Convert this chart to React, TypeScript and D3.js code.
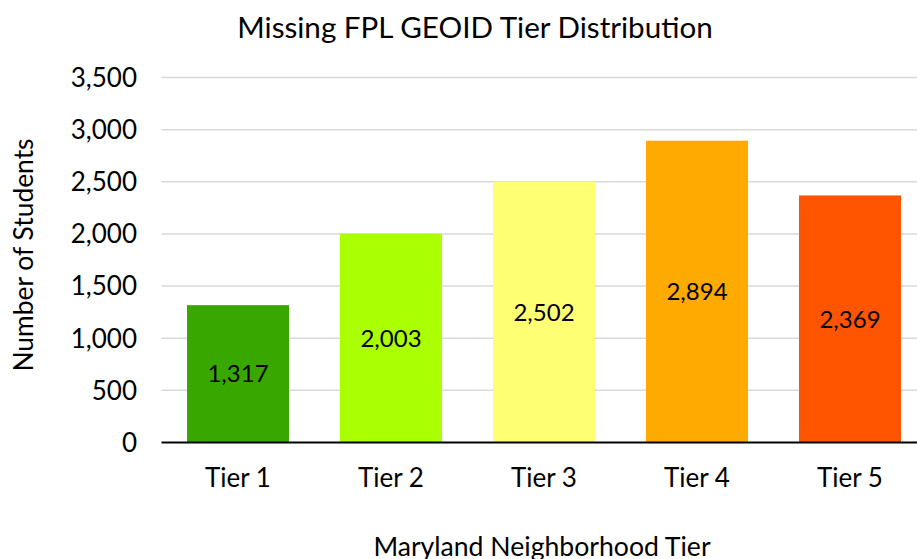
import React from 'react';
import * as d3 from 'd3';

// chart data
const tiers = ['Tier 1', 'Tier 2', 'Tier 3', 'Tier 4', 'Tier 5'];
const students = [1317, 2003, 2502, 2894, 2369];
const tierColors = ['#38a800', '#aaff00', '#ffff73', '#ffaa00', '#ff5500'];
const yTicks = [0, 500, 1000, 1500, 2000, 2500, 3000, 3500];

const width = 917;
const height = 559;
const font = 'Lato, "Open Sans", sans-serif';

const App = () => {
  // plot area
  const left = 161.5;
  const right = 926.5;
  const top = 77.5;
  const bottom = 442.5;

  const xScale = d3.scaleBand<string>()
    .domain(tiers)
    .range([left, right])
    .paddingInner(1 / 3)
    .paddingOuter(1 / 6);

  const yScale = d3.scaleLinear()
    .domain([0, 3500])
    .range([bottom, top]);

  const fmt = d3.format(',');

  return (
    <svg width={width} height={height} style={{ position: 'absolute', left: 0, top: 0, background: '#fff' }}>
      <rect x={0} y={0} width={width} height={height} fill="#fff" />
      <text x={475} y={38} textAnchor="middle" fontFamily={font} fontSize={29.6} fill="#000">
        Missing FPL GEOID Tier Distribution
      </text>

      {/* grid + y ticks */}
      {yTicks.map(t => (
        <g key={t}>
          {t > 0 && (
            <line x1={left} x2={width} y1={yScale(t)} y2={yScale(t)} stroke="#d9d9d9" strokeWidth={1.5} />
          )}
          <text x={137} y={yScale(t)} dy="0.36em" textAnchor="end" fontFamily={font} fontSize={26} fill="#000">
            {fmt(t)}
          </text>
        </g>
      ))}

      {/* bars */}
      {tiers.map((d, i) => (
        <g key={d}>
          <rect
            x={xScale(d)}
            y={yScale(students[i])}
            width={xScale.bandwidth()}
            height={yScale(0) - yScale(students[i])}
            fill={tierColors[i]}
          />
          <text
            x={(xScale(d) as number) + xScale.bandwidth() / 2}
            y={(yScale(students[i]) + yScale(0)) / 2}
            dy="0.36em"
            textAnchor="middle"
            fontFamily={font}
            fontSize={24}
            fill="#000"
          >
            {fmt(students[i])}
          </text>
          <text
            x={(xScale(d) as number) + xScale.bandwidth() / 2}
            y={487}
            textAnchor="middle"
            fontFamily={font}
            fontSize={26}
            fill="#000"
          >
            {d}
          </text>
        </g>
      ))}

      <line x1={left} x2={width} y1={yScale(0)} y2={yScale(0)} stroke="#000" strokeWidth={2} />

      {/* axis titles */}
      <text
        transform={`translate(33, 255) rotate(-90)`}
        textAnchor="middle"
        fontFamily={font}
        fontSize={26.4}
        fill="#000"
      >
        Number of Students
      </text>
      <text x={542} y={556} textAnchor="middle" fontFamily={font} fontSize={26.6} fill="#000">
        Maryland Neighborhood Tier
      </text>
    </svg>
  );
};

export default App;
